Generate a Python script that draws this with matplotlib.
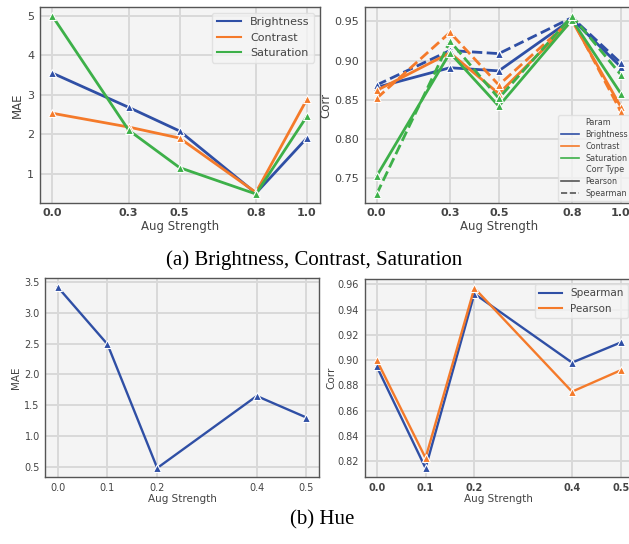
import matplotlib
matplotlib.use("Agg")
import matplotlib.pyplot as plt
from matplotlib.lines import Line2D

# ---- data ----
strength_a = [0.0, 0.3, 0.5, 0.8, 1.0]
params = ["Brightness", "Contrast", "Saturation"]
mae_a = {
    "Brightness": [3.55, 2.68, 2.08, 0.50, 1.90],
    "Contrast": [2.53, 2.18, 1.90, 0.52, 2.88],
    "Saturation": [5.00, 2.10, 1.15, 0.48, 2.45],
}
pearson_a = {
    "Brightness": [0.866, 0.891, 0.887, 0.953, 0.892],
    "Contrast": [0.862, 0.910, 0.858, 0.951, 0.841],
    "Saturation": [0.753, 0.910, 0.842, 0.952, 0.858],
}
spearman_a = {
    "Brightness": [0.869, 0.913, 0.909, 0.955, 0.897],
    "Contrast": [0.852, 0.936, 0.869, 0.953, 0.835],
    "Saturation": [0.730, 0.925, 0.852, 0.957, 0.882],
}

strength_b = [0.0, 0.1, 0.2, 0.4, 0.5]
mae_b = [3.42, 2.49, 0.48, 1.65, 1.30]
spearman_b = [0.895, 0.8145, 0.9525, 0.898, 0.914]
pearson_b = [0.900, 0.8225, 0.957, 0.875, 0.892]

colors = {"Brightness": "#2f4fa5", "Contrast": "#f47a2a", "Saturation": "#3db049"}

BG = "#f4f4f4"
GRID = "#d9d9d9"
TXT = "#444444"
SPINE = "#555555"

fig = plt.figure(figsize=(6.29, 5.44), dpi=100)


def style(ax, fs):
    ax.set_facecolor(BG)
    ax.grid(True, color=GRID, lw=1.4)
    ax.set_axisbelow(True)
    for s in ax.spines.values():
        s.set_color(SPINE)
        s.set_linewidth(1.0)
    ax.tick_params(colors=TXT, labelsize=fs, length=0, pad=4)
    ax.xaxis.label.set_color(TXT)
    ax.yaxis.label.set_color(TXT)


def legend(ax, handles, labels, **kw):
    leg = ax.legend(handles, labels, frameon=True, handlelength=2.2, **kw)
    leg.get_frame().set_facecolor(BG)
    leg.get_frame().set_edgecolor("#dddddd")
    for t in leg.get_texts():
        t.set_color(TXT)
    return leg


mk = dict(marker="^", markersize=5.5, markeredgecolor="white", markeredgewidth=0.8)

# (a) MAE
ax1 = fig.add_axes([0.063, 0.627, 0.445, 0.360])
for p in params:
    ax1.plot(strength_a, mae_a[p], color=colors[p], lw=2.0, **mk)
style(ax1, 8)
ax1.set_xticks(strength_a)
ax1.set_xticklabels(["0.0", "0.3", "0.5", "0.8", "1.0"], fontweight="bold")
ax1.set_yticks([1, 2, 3, 4, 5])
ax1.set_xlabel("Aug Strength", fontsize=8.5, labelpad=1)
ax1.set_ylabel("MAE", fontsize=8.5, labelpad=2)
legend(ax1, [Line2D([], [], color=colors[p], lw=1.5) for p in params], params,
       loc="upper right", fontsize=8)

# (a) Corr
ax2 = fig.add_axes([0.5795, 0.627, 0.427, 0.360])
for p in params:
    ax2.plot(strength_a, pearson_a[p], color=colors[p], lw=2.0, ls="-", **mk)
    ax2.plot(strength_a, spearman_a[p], color=colors[p], lw=2.0, ls=(0, (3.7, 1.6)), **mk)
style(ax2, 8)
ax2.set_xticks(strength_a)
ax2.set_xticklabels(["0.0", "0.3", "0.5", "0.8", "1.0"], fontweight="bold")
ax2.set_yticks([0.75, 0.80, 0.85, 0.90, 0.95])
ax2.set_xlabel("Aug Strength", fontsize=8.5, labelpad=1)
ax2.set_ylabel("Corr", fontsize=8.5, labelpad=1)
blank = Line2D([], [], color="none")
handles = [blank] + [Line2D([], [], color=colors[p], lw=1.2) for p in params] + [
    blank,
    Line2D([], [], color="#555555", lw=1.2, ls="-"),
    Line2D([], [], color="#555555", lw=1.2, ls="--"),
]
labels = ["Param"] + params + ["Corr Type", "Pearson", "Spearman"]
legend(ax2, handles, labels, loc="lower right", fontsize=5.8,
       labelspacing=0.35, borderaxespad=0.2)

fig.text(0.5, 0.522, "(a) Brightness, Contrast, Saturation", ha="center", va="center",
         fontsize=15, family="Liberation Serif")

# (b) MAE
ax3 = fig.add_axes([0.072, 0.123, 0.435, 0.366])
ax3.plot(strength_b, mae_b, color=colors["Brightness"], lw=1.7, **mk)
style(ax3, 7)
ax3.set_xticks(strength_b)
ax3.set_xticklabels(["0.0", "0.1", "0.2", "0.4", "0.5"])
ax3.set_yticks([0.5, 1.0, 1.5, 2.0, 2.5, 3.0, 3.5])
ax3.set_xlabel("Aug Strength", fontsize=7.5, labelpad=1)
ax3.set_ylabel("MAE", fontsize=7.5, labelpad=2)

# (b) Corr
ax4 = fig.add_axes([0.5795, 0.123, 0.427, 0.364])
ax4.plot(strength_b, spearman_b, color=colors["Brightness"], lw=1.7, **mk)
ax4.plot(strength_b, pearson_b, color=colors["Contrast"], lw=1.7, **mk)
style(ax4, 7)
ax4.set_xticks(strength_b)
ax4.set_xticklabels(["0.0", "0.1", "0.2", "0.4", "0.5"], fontweight="bold")
ax4.set_yticks([0.82, 0.84, 0.86, 0.88, 0.90, 0.92, 0.94, 0.96])
ax4.set_xlabel("Aug Strength", fontsize=7.5, labelpad=1)
ax4.set_ylabel("Corr", fontsize=7.5, labelpad=1)
legend(ax4, [Line2D([], [], color=colors["Brightness"], lw=1.5),
             Line2D([], [], color=colors["Contrast"], lw=1.5)],
       ["Spearman", "Pearson"], loc="upper right", fontsize=7.5)

fig.text(0.512, 0.044, "(b) Hue", ha="center", va="center",
         fontsize=15, family="Liberation Serif")

fig.savefig("out.png", dpi=100)
